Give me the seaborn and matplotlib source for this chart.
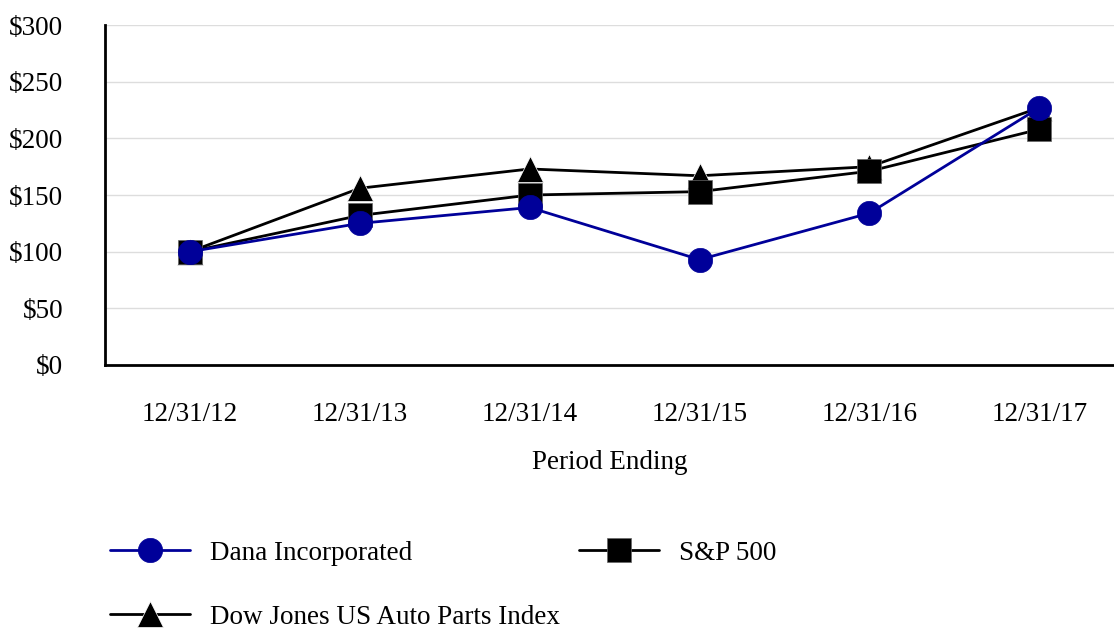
import pandas as pd
import matplotlib.pyplot as plt
import seaborn as sns

# Values (indexed to $100 at 12/31/12)
periods = ['12/31/12', '12/31/13', '12/31/14', '12/31/15', '12/31/16', '12/31/17']
dana = [100, 125, 139, 93, 134, 227]
sp500 = [100, 132, 150, 153, 171, 208]
dj_auto = [100, 156, 173, 167, 175, 227]
y_ticks = [0, 50, 100, 150, 200, 250, 300]

sns.set_style('white')
plt.rcParams['font.family'] = ['Liberation Serif', 'DejaVu Serif']
plt.rcParams['text.color'] = 'black'
plt.rcParams['axes.labelcolor'] = 'black'
fs = 19.5

fig = plt.figure(figsize=(11.14, 6.33), dpi=100)
ax = fig.add_axes([0.0943, 0.4234, 0.9057, 0.537])

idx = list(range(len(periods)))
df_dj = pd.DataFrame({'x': idx, 'y': dj_auto})
df_sp = pd.DataFrame({'x': idx, 'y': sp500})
df_dana = pd.DataFrame({'x': idx, 'y': dana})

sns.lineplot(data=df_dj, x='x', y='y', ax=ax, color='black', lw=2, marker='^',
             markersize=18.5, markeredgecolor='white', markeredgewidth=0.5,
             label='Dow Jones US Auto Parts Index', zorder=3)
sns.lineplot(data=df_sp, x='x', y='y', ax=ax, color='black', lw=2, marker='s',
             markersize=17, markeredgecolor='#666666', markeredgewidth=0.5,
             label='S&P 500', zorder=4)
sns.lineplot(data=df_dana, x='x', y='y', ax=ax, color='#000099', lw=2, marker='o',
             markersize=17.5, markeredgecolor='#000099', markeredgewidth=0.5,
             label='Dana Incorporated', zorder=5)

ax.set_xlim(-0.5, 5.44)
ax.set_ylim(0, 300)
ax.set_xticks(idx)
ax.set_xticklabels(periods)
ax.set_yticks(y_ticks)
ax.set_yticklabels([f'${v}' for v in y_ticks])
ax.grid(axis='y', color='#dddddd', lw=1)
ax.set_axisbelow(True)

for s in ['top', 'right']:
    ax.spines[s].set_visible(False)
for s in ['left', 'bottom']:
    ax.spines[s].set_color('black')
    ax.spines[s].set_linewidth(2)

ax.tick_params(axis='both', which='major', labelsize=fs, colors='#666666',
               labelcolor='black', width=1, direction='out')
ax.tick_params(axis='x', length=10, pad=17)
ax.tick_params(axis='y', length=11, pad=19)
ax.set_xlabel('Period Ending', fontsize=fs, labelpad=16)
ax.set_ylabel('')

handles, labels = ax.get_legend_handles_labels()
ax.get_legend().remove()
order = [labels.index('Dana Incorporated'),
         labels.index('Dow Jones US Auto Parts Index'),
         labels.index('S&P 500')]
fig.legend([handles[i] for i in order], [labels[i] for i in order],
           loc='upper left', bbox_to_anchor=(0.0987, 0.146), ncol=2,
           frameon=False, fontsize=fs, handlelength=2.95, handletextpad=0.75,
           columnspacing=0.7, labelspacing=1.45, borderpad=0, borderaxespad=0)

fig.savefig('out.png', dpi=100)
